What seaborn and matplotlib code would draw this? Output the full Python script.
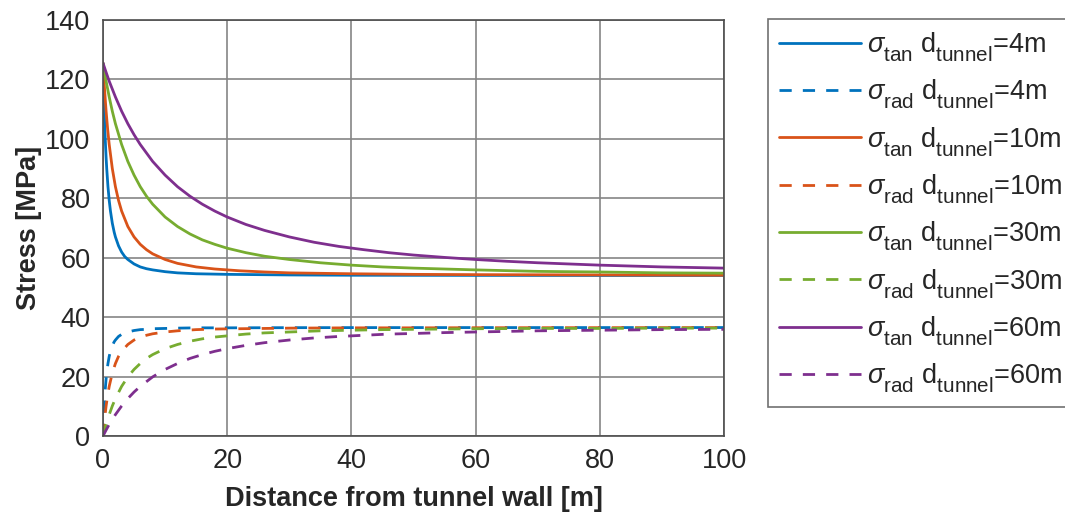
import matplotlib
matplotlib.use("Agg")
import matplotlib.pyplot as plt
import seaborn as sns
import pandas as pd

# Distance from the tunnel wall [m] and stresses [MPa], one set per tunnel diameter
dist_d4 = [0, 0.1, 0.2, 0.3, 0.4, 0.5, 0.6, 0.8, 1.0, 1.2, 1.5, 1.8, 2.0, 2.5,
           3, 3.5, 4, 5, 6, 7, 8, 10, 12, 15, 20, 30, 40, 60, 80, 100]
tan_d4 = [125.5, 116.6, 109.3, 103.2, 98.1, 93.7, 90.0, 83.9, 79.3, 75.7,
          71.6, 68.6, 67.0, 64.0, 61.9, 60.4, 59.4, 57.9, 56.9, 56.3, 55.9,
          55.3, 54.9, 54.6, 54.4, 54.2, 54.1, 54.05, 54.03, 54.02]
rad_d4 = [0.0, 5.6, 10.1, 13.7, 16.7, 19.2, 21.2, 24.4, 26.8, 28.5, 30.4,
          31.7, 32.3, 33.5, 34.2, 34.7, 35.0, 35.5, 35.8, 35.9, 36.1, 36.2,
          36.3, 36.4, 36.4, 36.46, 36.48, 36.49, 36.49, 36.5]

dist_d10 = [0, 0.25, 0.5, 0.75, 1, 1.5, 2, 2.5, 3, 4, 5, 6, 7, 8, 10, 12, 15,
            18, 22, 26, 30, 40, 50, 60, 80, 100]
tan_d10 = [125.5, 116.6, 109.3, 103.2, 98.1, 90.0, 83.9, 79.3, 75.7, 70.5,
           67.0, 64.5, 62.7, 61.3, 59.4, 58.1, 56.9, 56.2, 55.6, 55.2, 54.9,
           54.6, 54.4, 54.3, 54.2, 54.1]
rad_d10 = [0.0, 5.6, 10.1, 13.7, 16.7, 21.2, 24.4, 26.8, 28.5, 30.8, 32.3,
           33.3, 33.9, 34.4, 35.0, 35.4, 35.8, 36.0, 36.1, 36.2, 36.3, 36.4,
           36.4, 36.44, 36.46, 36.48]

dist_d30 = [0, 0.5, 1, 1.5, 2, 3, 4, 5, 6, 7, 8, 10, 12, 14, 16, 18, 20, 23,
            26, 30, 35, 40, 45, 50, 60, 70, 80, 90, 100]
tan_d30 = [125.5, 119.4, 114.1, 109.3, 105.1, 98.1, 92.4, 87.8, 83.9, 80.7,
           78.0, 73.7, 70.5, 68.0, 66.0, 64.5, 63.2, 61.7, 60.5, 59.4, 58.3,
           57.5, 56.9, 56.5, 55.9, 55.4, 55.2, 54.9, 54.8]
rad_d30 = [0.0, 3.9, 7.2, 10.1, 12.6, 16.7, 19.9, 22.4, 24.4, 26.1, 27.4,
           29.4, 30.8, 31.9, 32.7, 33.3, 33.7, 34.3, 34.7, 35.0, 35.4, 35.6,
           35.8, 35.9, 36.1, 36.2, 36.2, 36.3, 36.3]

dist_d60 = [0, 0.5, 1, 2, 3, 4, 5, 6, 8, 10, 12, 14, 16, 18, 20, 23, 26, 30,
            34, 38, 42, 46, 50, 55, 60, 65, 70, 80, 90, 100]
tan_d60 = [125.5, 122.4, 119.4, 114.1, 109.3, 105.1, 101.4, 98.1, 92.4, 87.8,
           83.9, 80.7, 78.0, 75.7, 73.7, 71.2, 69.2, 67.0, 65.2, 63.8, 62.7,
           61.7, 60.9, 60.1, 59.4, 58.8, 58.3, 57.5, 56.9, 56.5]
rad_d60 = [0.0, 2.0, 3.9, 7.2, 10.1, 12.6, 14.8, 16.7, 19.9, 22.4, 24.4,
           26.1, 27.4, 28.5, 29.4, 30.5, 31.4, 32.3, 33.0, 33.5, 33.9, 34.3,
           34.5, 34.8, 35.0, 35.2, 35.4, 35.6, 35.8, 35.9]

diameters = ["4m", "10m", "30m", "60m"]
colors = ["#0072BD", "#D95319", "#77AC30", "#7E2F8E"]
dist_series = [dist_d4, dist_d10, dist_d30, dist_d60]
tan_series = [tan_d4, tan_d10, tan_d30, tan_d60]
rad_series = [rad_d4, rad_d10, rad_d30, rad_d60]

sns.set_theme(style="white")
plt.rcParams["font.family"] = ["Liberation Sans", "DejaVu Sans"]
plt.rcParams["mathtext.fontset"] = "custom"
plt.rcParams["mathtext.rm"] = "Liberation Sans"
plt.rcParams["mathtext.it"] = "Liberation Sans:italic"
plt.rcParams["mathtext.bf"] = "Liberation Sans:bold"

# Slightly larger, lower subscripts in the legend labels
try:
    from matplotlib import _mathtext
    _mathtext.SHRINK_FACTOR = 0.76
    _mathtext.FontConstantsBase.sub1 = 0.65
except Exception:
    pass

TEXT = "#262626"
fig = plt.figure(figsize=(10.65, 5.15), dpi=100)
ax = fig.add_axes([103 / 1065, 1 - 436 / 515, 621 / 1065, 416 / 515])

for d, c, x, t, r in zip(diameters, colors, dist_series, tan_series, rad_series):
    df = pd.DataFrame({"x": x, "tan": t, "rad": r})
    sns.lineplot(data=df, x="x", y="tan", ax=ax, color=c, lw=2.0,
                 label=r"$\sigma_{\rm tan}$ d$_{\rm tunnel}$=" + d)
    sns.lineplot(data=df, x="x", y="rad", ax=ax, color=c, lw=2.0,
                 linestyle=(0, (4.4, 4.0)),
                 label=r"$\sigma_{\rm rad}$ d$_{\rm tunnel}$=" + d)

ax.set_xlim(0, 100)
ax.set_ylim(0, 140)
ax.set_xticks(range(0, 101, 20))
ax.set_yticks(range(0, 141, 20))
ax.grid(True, color="#858585", lw=1.2)
ax.set_axisbelow(True)
for s in ax.spines.values():
    s.set_color("#4d4d4d")
    s.set_linewidth(1.2)
ax.tick_params(axis="both", labelsize=19.5, colors=TEXT, length=0)
ax.tick_params(axis="x", pad=9)
ax.tick_params(axis="y", pad=9)
ax.set_xlabel("Distance from tunnel wall [m]", fontsize=19.5,
              fontweight="bold", color=TEXT, labelpad=8)
ax.set_ylabel("Stress [MPa]", fontsize=19.5, fontweight="bold",
              color=TEXT, labelpad=2)

leg = ax.legend(loc="upper left", bbox_to_anchor=(768 / 1065, 1 - 19 / 515),
                bbox_transform=fig.transFigure, fontsize=19.5, frameon=True,
                fancybox=False, handlelength=3.0, handletextpad=0.25,
                labelspacing=0.5, borderpad=0.42, borderaxespad=0)
leg.get_frame().set_edgecolor("#4d4d4d")
leg.get_frame().set_linewidth(1.2)
for txt in leg.get_texts():
    txt.set_color(TEXT)

fig.savefig("out.png", dpi=100)
